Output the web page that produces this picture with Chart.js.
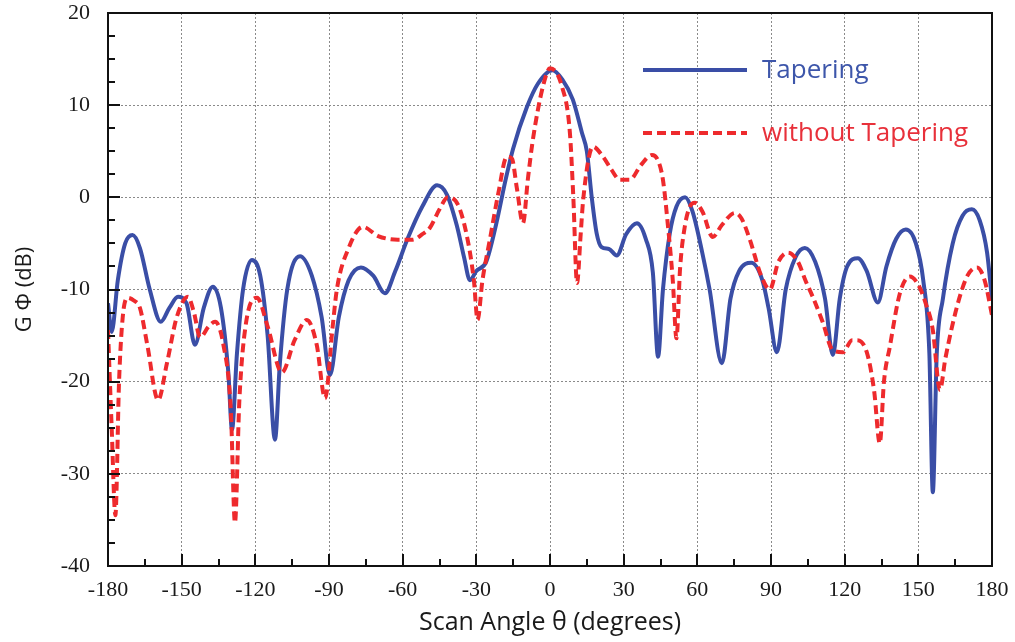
<!DOCTYPE html>
<html lang="en">
<head>
<meta charset="UTF-8">
<title>Scan Angle Pattern</title>
<script src="https://cdn.jsdelivr.net/npm/chart.js"></script>
<style>
  html, body { margin: 0; padding: 0; background: #fff; }
  canvas { display: block; }
</style>
</head>
<body>
<canvas id="gainChart" width="1015" height="642"></canvas>
<script>
// tapered array: angle (deg) / gain (dB)
var taperAngles = [-180, -178.5, -176, -173, -170, -167, -163, -158.5, -155, -151.5, -148, -144.6, -141, -137.3, -134, -131, -129.5, -127.5, -125, -121.4,
  -118, -115, -112, -110, -107, -101.8, -97, -93, -89.6, -86, -82, -77, -72, -67.2, -63, -58, -52, -46, -42, -38,
  -35, -32.6, -30, -26, -22, -18, -15, -9.4, -5, 1, 5, 9.3, 13, 15, 17, 19, 21, 24, 27.2, 31,
  35.4, 39, 41.9, 44, 46, 48.8, 51.5, 55, 58, 62, 65, 70, 73.5, 77, 82, 86.5, 89, 92.4, 96, 100,
  103.8, 108, 112, 115.2, 118, 121, 125.4, 129, 133.5, 137, 141, 144.9, 149, 152, 154.5, 155.9, 157.5, 160, 164, 168,
  171.8, 175, 178, 180];
var taperGain = [-11.5, -14.6, -9, -5, -4.1, -5.5, -10, -13.5, -12, -10.8, -11.5, -16, -12, -9.7, -12, -19, -25.2, -17, -10, -6.8,
  -8.5, -15, -26.3, -18, -10, -6.4, -8.5, -13, -19.3, -13, -9, -7.6, -8.5, -10.4, -8, -4.5, -1, 1.3, 0.3, -3,
  -6.5, -9, -8, -7, -3, 2, 5.3, 9.8, 12.3, 13.8, 12.8, 10.6, 7, 5, 0, -3.9, -5.4, -5.6, -6.3, -4,
  -2.8, -4.5, -8.2, -17.3, -10, -3.9, -1, 0, -1.5, -6, -10, -18, -11, -8, -7.1, -9, -12, -16.8, -10, -6.5,
  -5.5, -7, -11, -17.1, -11, -7.5, -6.6, -8, -11.4, -7.5, -4.5, -3.5, -5, -9, -17, -32, -17, -11, -5, -2,
  -1.3, -2.5, -6, -11.1];

// uniform array (no tapering)
var plainAngles = [-180, -178.5, -177, -175.5, -174, -172, -169.5, -167, -164, -159.6, -156, -152, -147.4, -145, -142.5, -139, -136.4, -133, -130, -128.3,
  -126.5, -124, -119.3, -115, -109.2, -104, -99, -95, -91.6, -88.5, -86.8, -82, -76.2, -70, -62, -56, -52, -48.9, -45, -41.6,
  -37.5, -34, -31, -29.5, -27.5, -24.5, -21, -17.6, -15.5, -13.5, -11, -9, -7, -2.9, 0, 4.9, 8.1, 9.5, 11, 12.5,
  13.5, 17.5, 21.6, 25, 28.5, 32.5, 37, 41.5, 44, 46, 48, 50, 51.5, 53, 55, 57, 59, 62, 66.3, 70,
  75.3, 78, 81.4, 86, 89.5, 93, 97, 101, 104, 107, 111, 115.2, 119.3, 123, 125, 129, 132, 134.3, 136, 138.4,
  142.5, 146.5, 150, 153, 155.9, 158.8, 161, 165.7, 170, 173.9, 177, 180];
var plainGain = [-14.4, -25, -34.5, -20, -13, -10.9, -11.2, -12, -16, -22, -18, -13, -10.8, -12.5, -15.2, -14, -13.5, -16, -23, -35.3,
  -22, -14, -10.9, -14, -19, -15.5, -13.3, -16, -21.8, -14, -10, -5.5, -3.2, -4.2, -4.6, -4.6, -4, -3.3, -1.3, 0,
  -0.8, -4, -9, -13.3, -9, -4.6, 0.5, 4.4, 4.2, 1, -2.8, 2, 6.2, 12, 14, 12, 7, 0, -9.3, -4,
  -0.3, 5.5, 4.4, 3, 1.9, 1.9, 3.5, 4.6, 4, 1.9, -3, -9, -15.3, -7.6, -3, -1, -0.6, -1.5, -4.3, -3,
  -1.7, -2.3, -4.6, -8.5, -10, -7, -6, -7, -9, -10.8, -13.5, -16.6, -16.8, -15.5, -15.5, -16.8, -21, -26.7, -20, -16.2,
  -10.4, -8.6, -9.5, -11.5, -14.4, -20.9, -17.5, -11.9, -8.5, -7.6, -9, -12.8];

var angleTicks = [-180, -150, -120, -90, -60, -30, 0, 30, 60, 90, 120, 150, 180];
var gainTicks = [-40, -30, -20, -10, 0, 10, 20];

function toPoints(xs, ys) {
  return xs.map(function (x, i) { return { x: x, y: ys[i] }; });
}

// plot frame plus inward major/minor tick marks
var frameTicks = {
  id: 'frameTicks',
  afterDatasetsDraw: function (chart) {
    var a = chart.chartArea, ctx = chart.ctx;
    var xs = chart.scales.x, ys = chart.scales.y;
    ctx.save();
    ctx.strokeStyle = '#111';
    ctx.lineWidth = 2;
    ctx.strokeRect(a.left, a.top, a.right - a.left, a.bottom - a.top);
    ctx.beginPath();
    for (var v = -180; v <= 180; v += 15) {
      var px = Math.round(xs.getPixelForValue(v));
      ctx.moveTo(px, a.bottom);
      ctx.lineTo(px, a.bottom - (v % 30 === 0 ? 12 : 7));
    }
    for (var g = -40; g <= 20; g += 2.5) {
      var py = Math.round(ys.getPixelForValue(g));
      ctx.moveTo(a.left, py);
      ctx.lineTo(a.left + (g % 10 === 0 ? 12 : 7), py);
    }
    ctx.stroke();
    ctx.restore();
  }
};

// legend drawn inside the plot, upper right
var innerLegend = {
  id: 'innerLegend',
  afterDraw: function (chart) {
    var a = chart.chartArea, ctx = chart.ctx;
    var rows = [a.top + 57, a.top + 120];
    chart.data.datasets.forEach(function (ds, i) {
      var y = rows[i];
      ctx.save();
      ctx.strokeStyle = ds.borderColor;
      ctx.lineWidth = ds.borderWidth;
      ctx.setLineDash(ds.borderDash || []);
      ctx.beginPath();
      ctx.moveTo(a.right - 349, y);
      ctx.lineTo(a.right - 245, y);
      ctx.stroke();
      ctx.setLineDash([]);
      ctx.fillStyle = ds.labelColor;
      ctx.font = '26px "Open Sans"';
      ctx.textBaseline = 'middle';
      ctx.fillText(ds.label, a.right - 230, y + 1);
      ctx.restore();
    });
  }
};

var ctx = document.getElementById('gainChart').getContext('2d');
var gainChart = new Chart(ctx, {
  type: 'line',
  data: {
    datasets: [{
      label: 'Tapering',
      data: toPoints(taperAngles, taperGain),
      borderColor: '#3a4ea6',
      labelColor: '#3d56aa',
      borderWidth: 4,
      pointRadius: 0,
      cubicInterpolationMode: 'monotone',
      order: 1
    }, {
      label: 'without Tapering',
      data: toPoints(plainAngles, plainGain),
      borderColor: '#ee2a2d',
      labelColor: '#e8303a',
      borderWidth: 4,
      borderDash: [9, 5],
      pointRadius: 0,
      cubicInterpolationMode: 'monotone',
      order: 0
    }]
  },
  options: {
    responsive: false,
    devicePixelRatio: 1,
    animation: false,
    layout: { padding: { top: 13, right: 23, left: 0, bottom: 0 } },
    plugins: { legend: { display: false }, tooltip: { enabled: false } },
    scales: {
      x: {
        type: 'linear',
        min: -180,
        max: 180,
        afterBuildTicks: function (s) { s.ticks = angleTicks.map(function (v) { return { value: v }; }); },
        afterFit: function (s) { s.height = 76; s.paddingLeft = 0; s.paddingRight = 0; },
        grid: { color: '#8a8a8a', lineWidth: 1, drawTicks: false },
        border: { display: true, color: '#111', width: 2, dash: [2, 2] },
        ticks: {
          padding: 11,
          color: '#1a1a1a',
          font: { family: '"Liberation Serif"', size: 22 },
          maxRotation: 0,
          callback: function (v) { return String(v); }
        },
        title: {
          display: true,
          text: 'Scan Angle θ (degrees)',
          color: '#1a1a1a',
          font: { family: '"Open Sans"', size: 25 },
          padding: { top: 0, bottom: 4 }
        }
      },
      y: {
        min: -40,
        max: 20,
        afterBuildTicks: function (s) { s.ticks = gainTicks.map(function (v) { return { value: v }; }); },
        afterFit: function (s) { s.width = 108; s.paddingTop = 0; s.paddingBottom = 0; },
        grid: { color: '#8a8a8a', lineWidth: 1, drawTicks: false },
        border: { display: true, color: '#111', width: 2, dash: [2, 2] },
        ticks: {
          padding: 18,
          color: '#1a1a1a',
          font: { family: '"Liberation Serif"', size: 22 },
          callback: function (v) { return String(v); }
        },
        title: {
          display: true,
          text: 'G Φ (dB)',
          color: '#1a1a1a',
          font: { family: '"Open Sans"', size: 22 },
          padding: { top: 12, bottom: 0 }
        }
      }
    }
  },
  plugins: [frameTicks, innerLegend]
});
</script>
</body>
</html>
